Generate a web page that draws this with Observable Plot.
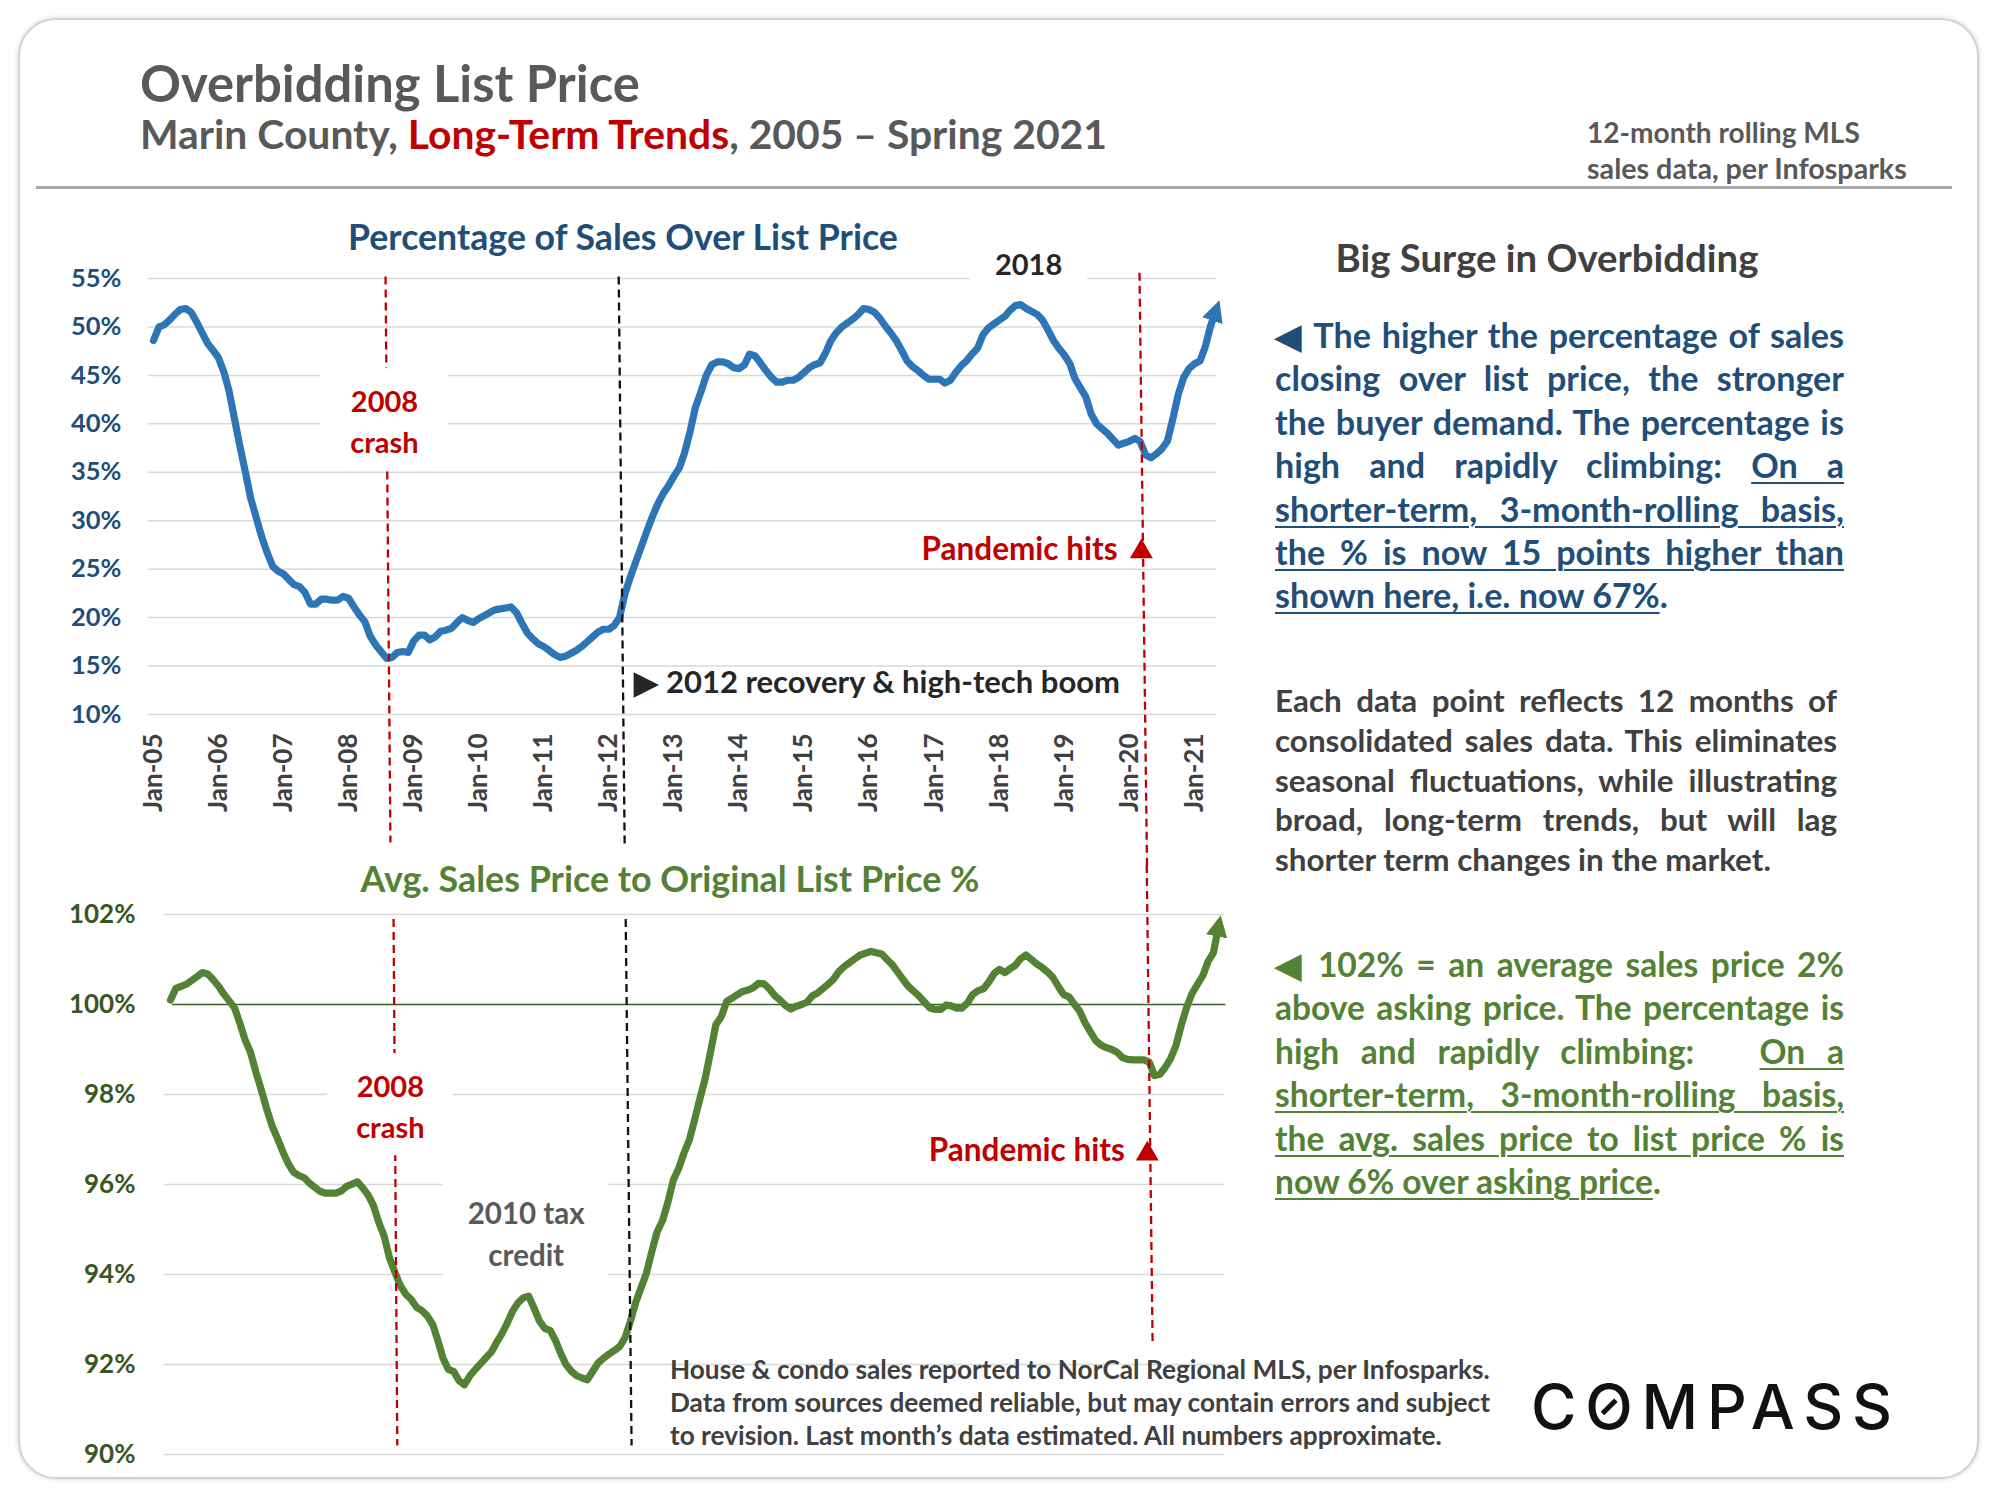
<!DOCTYPE html>
<html>
<head>
<meta charset="utf-8">
<script src="https://cdn.jsdelivr.net/npm/d3@7"></script>
<script src="https://cdn.jsdelivr.net/npm/@observablehq/plot@0.6"></script>
<style>
  html, body { margin: 0; padding: 0; background: #fff; }
  #page { position: relative; width: 2000px; height: 1500px; overflow: hidden; font-family: Lato, "Open Sans", sans-serif; }
  .card { position: absolute; left: 18px; top: 18px; width: 1961px; height: 1461px; border: 2px solid #d2d2d2; border-radius: 38px; box-shadow: 0 0 5px rgba(0,0,0,0.18); box-sizing: border-box; }
  .hrule { position: absolute; left: 36px; top: 186px; width: 1916px; height: 3px; background: #a8a8a8; }
  .t { position: absolute; left: 0; top: 0; white-space: nowrap; line-height: 1; font-weight: 700; }
  .ln { position: absolute; left: 0; top: 0; white-space: nowrap; line-height: 1; font-weight: 700; }
  .u { text-decoration: underline; text-decoration-thickness: 2px; text-underline-offset: 4px; }
  .chart { position: absolute; left: 0; }
  .logo { font-family: Inter, Roboto, sans-serif; font-weight: 500; color: #111; }
  .slash { position: relative; display: inline-block; }
  .slash::after { content: ""; position: absolute; width: 0.3em; height: 0.08em; background: #111; left: calc((100% - var(--ls, 0px)) / 2); top: 0.5em; transform: translate(-50%, -50%) rotate(-45deg); }
</style>
</head>
<body>
<div id="page">
  <div class="card"></div>
  <div class="hrule"></div>
  <div id="topChart" class="chart" style="top:230px"></div>
  <div id="bottomChart" class="chart" style="top:870px"></div>

  <div class="t" data-x="140" data-b="102" data-f="46" data-w="500" style="color:#595959">Overbidding List Price</div>
  <div class="t" data-x="140" data-b="149" data-f="38" data-w="967" style="color:#595959">Marin County, <span style="color:#c00000">Long-Term Trends</span>, 2005 – Spring 2021</div>
  <div class="t" data-x="1587" data-b="143" data-f="25" data-w="273" style="color:#595959">12-month rolling MLS</div>
  <div class="t" data-x="1587" data-b="179" data-f="25" data-w="320" style="color:#595959">sales data, per Infosparks</div>

  <div class="t" data-cx="623" data-b="250" data-f="33" data-w="550" style="color:#1f4e79">Percentage of Sales Over List Price</div>
  <div class="t" data-cx="670" data-b="892" data-f="33" data-w="619" style="color:#548235">Avg. Sales Price to Original List Price %</div>
  <div class="t" data-cx="1547" data-b="272" data-f="33" data-w="423" style="color:#404040">Big Surge in Overbidding</div>

  <div class="para" data-x="1275" data-w="569" data-b0="348" data-lh="43.4" data-lastw="393" style="color:#1f4e79">
    <div class="ln">◀ The higher the percentage of sales</div>
    <div class="ln">closing over list price, the stronger</div>
    <div class="ln">the buyer demand. The percentage is</div>
    <div class="ln">high and rapidly climbing: <span class="u">On a</span></div>
    <div class="ln"><span class="u">shorter-term, 3-month-rolling basis,</span></div>
    <div class="ln"><span class="u">the % is now 15 points higher than</span></div>
    <div class="ln last"><span class="u">shown here, i.e. now 67%</span>.</div>
  </div>

  <div class="para" data-x="1275" data-w="562" data-b0="712" data-lh="39.8" data-lastw="496" style="color:#404040">
    <div class="ln">Each data point reflects 12 months of</div>
    <div class="ln">consolidated sales data. This eliminates</div>
    <div class="ln">seasonal fluctuations, while illustrating</div>
    <div class="ln">broad, long-term trends, but will lag</div>
    <div class="ln last">shorter term changes in the market.</div>
  </div>

  <div class="para" data-x="1275" data-w="569" data-b0="977" data-lh="43.4" data-lastw="386" style="color:#548235">
    <div class="ln">◀ 102% = an average sales price 2%</div>
    <div class="ln">above asking price. The percentage is</div>
    <div class="ln">high and rapidly climbing: &nbsp; <span class="u">On a</span></div>
    <div class="ln"><span class="u">shorter-term, 3-month-rolling basis,</span></div>
    <div class="ln"><span class="u">the avg. sales price to list price % is</span></div>
    <div class="ln last"><span class="u">now 6% over asking price</span>.</div>
  </div>

  <div class="t foot" data-x="670" data-b="1379" data-f="23" data-w="820" style="color:#404040">House &amp; condo sales reported to NorCal Regional MLS, per Infosparks.</div>
  <div class="t foot" data-x="670" data-b="1412" data-f="23" style="color:#404040">Data from sources deemed reliable, but may contain errors and subject</div>
  <div class="t foot" data-x="670" data-b="1445" data-f="23" style="color:#404040">to revision. Last month’s data estimated. All numbers approximate.</div>

  <div class="t logo" id="logo" data-x="1531" data-b="1429" data-f="62">C<span class="slash">O</span>MPASS</div>
</div>

<script>
// ---------------- DATA ----------------
const startMonth = "2005-01";   // first monthly point (12-month rolling)

// Percentage of sales over list price (%), monthly Jan-2005 ... May-2021
const overListPct = [
  48.6, 50.0, 50.2, 50.7, 51.3, 51.8, 51.9, 51.5, 50.5, 49.4, 48.3, 47.6,
  46.8, 45.3, 43.4, 40.5, 37.7, 35.0, 32.3, 30.3, 28.3, 26.7, 25.3, 24.8,
  24.5, 23.9, 23.4, 23.2, 22.6, 21.4, 21.4, 21.9, 21.9, 21.8, 21.8, 22.2,
  22.0, 21.1, 20.3, 19.6, 18.1, 17.2, 16.5, 15.8, 15.9, 16.4, 16.5, 16.4,
  17.6, 18.2, 18.2, 17.7, 18.0, 18.6, 18.7, 18.9, 19.5, 20.0, 19.7, 19.5,
  19.9, 20.2, 20.5, 20.8, 20.9, 21.0, 21.1, 20.5, 19.4, 18.4, 17.8, 17.3,
  17.0, 16.6, 16.2, 15.9, 16.0, 16.3, 16.6, 17.0, 17.5, 18.0, 18.5, 18.8,
  18.8, 19.2, 20.0, 22.5, 24.2, 25.8, 27.3, 28.9, 30.4, 31.7, 32.8, 33.6,
  34.6, 35.5, 37.0, 39.2, 41.7, 43.3, 45.0, 46.1, 46.4, 46.4, 46.2, 45.8,
  45.7, 46.1, 47.2, 47.0, 46.3, 45.5, 44.8, 44.3, 44.3, 44.5, 44.5, 44.8,
  45.3, 45.8, 46.1, 46.3, 47.3, 48.6, 49.4, 50.0, 50.4, 50.8, 51.3, 51.9,
  51.8, 51.5, 50.9, 50.1, 49.4, 48.6, 47.6, 46.5, 45.9, 45.5, 45.0, 44.6,
  44.6, 44.6, 44.2, 44.5, 45.3, 46.0, 46.5, 47.2, 47.8, 49.2, 49.9, 50.3,
  50.7, 51.1, 51.7, 52.2, 52.3, 51.9, 51.6, 51.3, 50.7, 49.7, 48.6, 47.8,
  47.1, 46.2, 44.7, 43.7, 42.8, 41.0, 40.0, 39.5, 39.0, 38.4, 37.8, 38.0,
  38.2, 38.5, 38.2, 36.8, 36.5, 36.9, 37.4, 38.2, 40.5, 43.0, 44.8, 45.7,
  46.2, 46.5, 47.9, 50.1, 51.7
];

// Average sales price to original list price (%), monthly Jan-2005 ... May-2021
const saleToListPct = [
  100.10, 100.36, 100.40, 100.45, 100.53, 100.62, 100.71, 100.68, 100.55, 100.41, 100.23, 100.08,
  99.92, 99.57, 99.22, 98.94, 98.51, 98.11, 97.70, 97.31, 97.03, 96.74, 96.47, 96.28,
  96.20, 96.15, 96.04, 95.94, 95.85, 95.81, 95.81, 95.81, 95.86, 95.96, 96.01, 96.06,
  95.92, 95.76, 95.53, 95.15, 94.85, 94.36, 94.05, 93.75, 93.56, 93.45, 93.27, 93.20,
  93.08, 92.89, 92.55, 92.14, 91.89, 91.84, 91.64, 91.55, 91.75, 91.89, 92.02, 92.15,
  92.28, 92.50, 92.68, 92.92, 93.18, 93.37, 93.48, 93.52, 93.25, 92.97, 92.80, 92.76,
  92.53, 92.23, 92.00, 91.85, 91.75, 91.70, 91.66, 91.85, 92.04, 92.14, 92.23, 92.31,
  92.40, 92.60, 92.95, 93.38, 93.70, 94.03, 94.50, 94.95, 95.20, 95.60, 96.10, 96.35,
  96.70, 97.00, 97.42, 97.90, 98.35, 98.95, 99.55, 99.73, 100.07, 100.14, 100.22, 100.29,
  100.32, 100.38, 100.47, 100.46, 100.35, 100.20, 100.10, 99.98, 99.90, 99.96, 100.00, 100.05,
  100.19, 100.26, 100.35, 100.45, 100.56, 100.73, 100.84, 100.93, 101.02, 101.10, 101.14, 101.18,
  101.15, 101.12, 101.00, 100.88, 100.72, 100.55, 100.40, 100.29, 100.18, 100.05, 99.92, 99.89,
  99.89, 99.99, 99.97, 99.92, 99.92, 100.03, 100.22, 100.31, 100.35, 100.50, 100.69, 100.78,
  100.71, 100.80, 100.87, 101.02, 101.10, 101.00, 100.90, 100.82, 100.72, 100.60, 100.40, 100.22,
  100.17, 100.00, 99.86, 99.60, 99.40, 99.20, 99.10, 99.04, 99.00, 98.94, 98.82, 98.78,
  98.77, 98.77, 98.77, 98.72, 98.42, 98.45, 98.60, 98.80, 99.10, 99.55, 99.95, 100.25,
  100.45, 100.65, 100.95, 101.15, 101.75
];

const topYTicks = [10, 15, 20, 25, 30, 35, 40, 45, 50, 55];
const bottomYTicks = [90, 92, 94, 96, 98, 102];
const referenceLevel = [100];
const yearTickLabels = ["Jan-05","Jan-06","Jan-07","Jan-08","Jan-09","Jan-10","Jan-11","Jan-12",
  "Jan-13","Jan-14","Jan-15","Jan-16","Jan-17","Jan-18","Jan-19","Jan-20","Jan-21"];

// Annotations: k = months after Jan-2005, y in axis units
const topNotes = [
  {k: 42.6, y: 37.0, text: "2008\ncrash", color: "#c00000", anchor: "middle", size: 29},
  {k: 161.4, y: 55.4, text: "2018", color: "#262626", anchor: "middle", size: 29},
  {k: 177.8, y: 25.9, text: "Pandemic hits", color: "#c00000", anchor: "end", size: 31.5},
  {k: 88.7, y: 12.2, text: "▶ 2012 recovery & high-tech boom", color: "#262626", anchor: "start", size: 31}
];
const bottomNotes = [
  {k: 41.1, y: 97.04, text: "2008\ncrash", color: "#c00000", anchor: "middle", size: 29},
  {k: 66.5, y: 94.2, text: "2010 tax\ncredit", color: "#595959", anchor: "middle", size: 29.5},
  {k: 178.4, y: 96.53, text: "Pandemic hits", color: "#c00000", anchor: "end", size: 31.5}
];
const topRedLines = [
  {k1: 42.8, y1: 55.2, k2: 43.7, y2: -3.2},
  {k1: 181.85, y1: 55.6, k2: 183.25, y2: -6.2}
];
const topBlackLines = [{k1: 85.8, y1: 55.2, k2: 86.9, y2: -3.5}];
const bottomRedLines = [
  {k1: 41.7, y1: 101.9, k2: 42.4, y2: 90.2},
  {k1: 182.5, y1: 103.1, k2: 183.6, y2: 92.49}
];
const bottomBlackLines = [{k1: 85.1, y1: 101.9, k2: 86.2, y2: 90.2}];
const topLabelBoxes = [
  {k1: 30.8, k2: 54.4, y1: 35.4, y2: 45.7},
  {k1: 150.7, k2: 172.3, y1: 53.8, y2: 57.9}
];
const bottomLabelBoxes = [
  {k1: 29.4, k2: 52.9, y1: 96.64, y2: 98.91},
  {k1: 51.0, k2: 81.9, y1: 93.91, y2: 96.09}
];
const topTriangles = [{k: 182.2, y: 26.8}];
const bottomTriangles = [{k: 182.6, y: 96.68}];

// ---------------- HELPERS ----------------
const start = d3.utcParse("%Y-%m")(startMonth);
const MONTH = 30.436875 * 864e5;
const md = k => new Date(+start + k * MONTH);
const monthly = vals => vals.map((v, i) => ({date: d3.utcMonth.offset(start, i), v}));
const yearTicks = yearTickLabels.map((s, i) => d3.utcYear.offset(start, i));
const fmtTick = d => yearTickLabels[d.getUTCFullYear() - start.getUTCFullYear()];

function noteMarks(notes) {
  return notes.map(n => Plot.text([n], {
    x: d => md(d.k), y: "y", text: "text", fill: n.color, textAnchor: n.anchor,
    lineAnchor: "bottom", fontSize: n.size, fontWeight: "bold", lineHeight: 1.4
  }));
}
function linkMarks(lines, color) {
  return Plot.link(lines, {x1: d => md(d.k1), x2: d => md(d.k2), y1: "y1", y2: "y2",
    stroke: color, strokeWidth: 2.3, strokeDasharray: "8,5"});
}
function boxMarks(boxes) {
  return Plot.rect(boxes, {x1: d => md(d.k1), x2: d => md(d.k2), y1: "y1", y2: "y2", fill: "white"});
}
function addArrow(svg, color, id) {
  const s = d3.select(svg);
  s.append("defs").append("marker").attr("id", id)
    .attr("viewBox", "0 0 10 10").attr("refX", 5).attr("refY", 5)
    .attr("markerWidth", 3.0).attr("markerHeight", 3.0).attr("orient", "auto")
    .append("path").attr("d", "M0,0L10,5L0,10Z").attr("fill", color);
  s.select('g[aria-label="line"] path').attr("marker-end", `url(#${id})`);
}

// ---------------- TOP CHART ----------------
const topPlot = Plot.plot({
  width: 1260, height: 640,
  marginTop: 48, marginBottom: 156, marginLeft: 148, marginRight: 44,
  style: {background: "transparent", fontFamily: "Lato, sans-serif", overflow: "visible", color: "#404040"},
  x: {type: "utc", domain: [md(-0.92), md(196.05)]},
  y: {domain: [10, 55]},
  marks: [
    Plot.gridY(topYTicks, {stroke: "#d9d9d9", strokeOpacity: 1, strokeWidth: 1.5}),
    Plot.line(monthly(overListPct), {x: "date", y: "v", stroke: "#2e75b6", strokeWidth: 7.2}),
    linkMarks(topRedLines, "#c00000"),
    linkMarks(topBlackLines, "#111111"),
    boxMarks(topLabelBoxes),
    ...noteMarks(topNotes),
    Plot.dot(topTriangles, {x: d => md(d.k), y: "y", symbol: "triangle", r: 8.5, fill: "#c00000"}),
    Plot.axisY(topYTicks, {tickSize: 0, tickPadding: 27, tickFormat: d => d + "%", fontSize: 25.5,
      fontWeight: "bold", fill: "#1f4e79", label: null}),
    Plot.axisX(yearTicks, {tickSize: 0, tickPadding: 19, tickRotate: -90, tickFormat: fmtTick,
      fontSize: 26, fontWeight: "bold", fill: "#404040", label: null})
  ]
});
document.getElementById("topChart").appendChild(topPlot);
addArrow(topPlot, "#2e75b6", "arrowBlue");

// ---------------- BOTTOM CHART ----------------
const bottomPlot = Plot.plot({
  width: 1260, height: 610,
  marginTop: 44, marginBottom: 26, marginLeft: 164, marginRight: 36,
  style: {background: "transparent", fontFamily: "Lato, sans-serif", overflow: "visible", color: "#375623"},
  x: {type: "utc", domain: [md(-1.12), md(197.04)], axis: null},
  y: {domain: [90, 102]},
  marks: [
    Plot.gridY(bottomYTicks, {stroke: "#d9d9d9", strokeOpacity: 1, strokeWidth: 1.5}),
    Plot.ruleY(referenceLevel.map(v => ({v, a: md(0.4), b: md(197.3)})), {y: "v", x1: "a", x2: "b", stroke: "#3d5e2c", strokeWidth: 1.6}),
    Plot.line(monthly(saleToListPct), {x: "date", y: "v", stroke: "#548235", strokeWidth: 7.2}),
    linkMarks(bottomRedLines, "#c00000"),
    linkMarks(bottomBlackLines, "#111111"),
    boxMarks(bottomLabelBoxes),
    ...noteMarks(bottomNotes),
    Plot.dot(bottomTriangles, {x: d => md(d.k), y: "y", symbol: "triangle", r: 8.5, fill: "#c00000"}),
    Plot.axisY([...bottomYTicks, ...referenceLevel].sort((a, b) => a - b), {tickSize: 0, tickPadding: 29,
      tickFormat: d => d + "%", fontSize: 26, fontWeight: "bold", fill: "#375623", label: null})
  ]
});
document.getElementById("bottomChart").appendChild(bottomPlot);
addArrow(bottomPlot, "#548235", "arrowGreen");

// ---------------- TEXT LAYOUT ----------------
function baselineOf(el) {
  const p = document.createElement("span");
  p.style.cssText = "display:inline-block;width:0;height:0;vertical-align:baseline";
  el.appendChild(p);
  const b = p.getBoundingClientRect().bottom - el.getBoundingClientRect().top;
  p.remove();
  return b;
}
function placeText(el, forcedF) {
  const F0 = +el.dataset.f;
  el.style.fontSize = F0 + "px";
  let w = el.getBoundingClientRect().width;
  let F = forcedF || (el.dataset.w ? F0 * (+el.dataset.w) / w : F0);
  el.style.fontSize = F + "px";
  w = el.getBoundingClientRect().width;
  const b = baselineOf(el);
  const x = el.dataset.cx ? +el.dataset.cx - w / 2 : +el.dataset.x;
  el.style.left = x + "px";
  el.style.top = (+el.dataset.b - b) + "px";
  return F;
}
const feet = [...document.querySelectorAll(".t.foot")];
document.querySelectorAll(".t:not(.foot):not(.logo)").forEach(el => placeText(el));
const footF = placeText(feet[0]);
feet.slice(1).forEach(el => placeText(el, footF));

// logo
const logo = document.getElementById("logo");
logo.style.fontSize = "62px";
logo.style.letterSpacing = "0px";
const w0 = logo.getBoundingClientRect().width;
const ls = (361 - w0) / 6;
logo.style.letterSpacing = ls + "px";
logo.style.setProperty("--ls", ls + "px");
logo.style.left = logo.dataset.x + "px";
logo.style.top = (+logo.dataset.b - baselineOf(logo)) + "px";

// justified paragraphs
document.querySelectorAll(".para").forEach(p => {
  const lines = [...p.querySelectorAll(".ln")];
  const W = +p.dataset.w, X = +p.dataset.x, B0 = +p.dataset.b0, LH = +p.dataset.lh;
  const F0 = 30;
  lines.forEach(l => { l.style.fontSize = F0 + "px"; l.style.width = "auto"; });
  const widths = lines.map(l => l.getBoundingClientRect().width);
  const maxW = Math.max(...widths.slice(0, -1));
  const fLast = F0 * (+p.dataset.lastw) / widths[widths.length - 1];
  const fFit = F0 * (W * 0.995) / maxW;
  const F = Math.min(fLast, fFit);
  lines.forEach((l, i) => {
    l.style.fontSize = F + "px";
    l.style.left = X + "px";
    if (!l.classList.contains("last")) {
      l.style.width = W + "px";
      l.style.textAlign = "justify";
      l.style.textAlignLast = "justify";
    }
    const b = baselineOf(l);
    l.style.top = (B0 + i * LH - b) + "px";
  });
});
</script>
</body>
</html>
